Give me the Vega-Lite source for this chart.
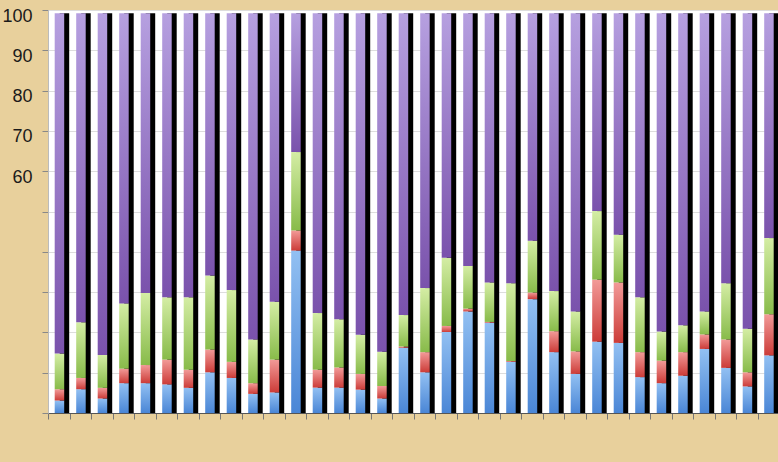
{
  "$schema": "https://vega.github.io/schema/vega-lite/v6.json",
  "width": 731,
  "height": 403,
  "autosize": {"type": "none"},
  "padding": {"left": 48, "top": 10, "right": 0, "bottom": 49},
  "background": "#e8d09c",
  "config": {"view": {"stroke": null, "fill": "white"}, "font": "Liberation Sans"},
  "datasets": {
    "d": [
      {"bar":1,"series":"A","value":3.1},{"bar":1,"series":"B","value":2.8},{"bar":1,"series":"C","value":8.85},{"bar":1,"series":"D","value":84.45},
      {"bar":2,"series":"A","value":5.9},{"bar":2,"series":"B","value":2.8},{"bar":2,"series":"C","value":13.8},{"bar":2,"series":"D","value":76.7},
      {"bar":3,"series":"A","value":3.6},{"bar":3,"series":"B","value":2.65},{"bar":3,"series":"C","value":8.15},{"bar":3,"series":"D","value":84.8},
      {"bar":4,"series":"A","value":7.4},{"bar":4,"series":"B","value":3.6},{"bar":4,"series":"C","value":16.2},{"bar":4,"series":"D","value":72.0},
      {"bar":5,"series":"A","value":7.4},{"bar":5,"series":"B","value":4.5},{"bar":5,"series":"C","value":17.9},{"bar":5,"series":"D","value":69.4},
      {"bar":6,"series":"A","value":7.1},{"bar":6,"series":"B","value":6.15},{"bar":6,"series":"C","value":15.45},{"bar":6,"series":"D","value":70.5},
      {"bar":7,"series":"A","value":6.25},{"bar":7,"series":"B","value":4.5},{"bar":7,"series":"C","value":17.95},{"bar":7,"series":"D","value":70.5},
      {"bar":8,"series":"A","value":10.1},{"bar":8,"series":"B","value":5.65},{"bar":8,"series":"C","value":18.35},{"bar":8,"series":"D","value":65.1},
      {"bar":9,"series":"A","value":8.7},{"bar":9,"series":"B","value":4.0},{"bar":9,"series":"C","value":17.8},{"bar":9,"series":"D","value":68.7},
      {"bar":10,"series":"A","value":4.75},{"bar":10,"series":"B","value":2.65},{"bar":10,"series":"C","value":10.85},{"bar":10,"series":"D","value":80.95},
      {"bar":11,"series":"A","value":5.1},{"bar":11,"series":"B","value":8.15},{"bar":11,"series":"C","value":14.35},{"bar":11,"series":"D","value":71.6},
      {"bar":12,"series":"A","value":40.3},{"bar":12,"series":"B","value":5.0},{"bar":12,"series":"C","value":19.45},{"bar":12,"series":"D","value":34.45},
      {"bar":13,"series":"A","value":6.3},{"bar":13,"series":"B","value":4.45},{"bar":13,"series":"C","value":14.05},{"bar":13,"series":"D","value":74.4},
      {"bar":14,"series":"A","value":6.3},{"bar":14,"series":"B","value":5.0},{"bar":14,"series":"C","value":11.95},{"bar":14,"series":"D","value":75.95},
      {"bar":15,"series":"A","value":5.8},{"bar":15,"series":"B","value":3.9},{"bar":15,"series":"C","value":9.7},{"bar":15,"series":"D","value":79.8},
      {"bar":16,"series":"A","value":3.6},{"bar":16,"series":"B","value":3.1},{"bar":16,"series":"C","value":8.5},{"bar":16,"series":"D","value":84.0},
      {"bar":17,"series":"A","value":16.2},{"bar":17,"series":"B","value":0.3},{"bar":17,"series":"C","value":7.8},{"bar":17,"series":"D","value":74.9},
      {"bar":18,"series":"A","value":10.1},{"bar":18,"series":"B","value":5.0},{"bar":18,"series":"C","value":15.9},{"bar":18,"series":"D","value":68.2},
      {"bar":19,"series":"A","value":20.1},{"bar":19,"series":"B","value":1.5},{"bar":19,"series":"C","value":16.9},{"bar":19,"series":"D","value":60.7},
      {"bar":20,"series":"A","value":25.2},{"bar":20,"series":"B","value":0.7},{"bar":20,"series":"C","value":10.6},{"bar":20,"series":"D","value":62.7},
      {"bar":21,"series":"A","value":22.4},{"bar":21,"series":"B","value":0.2},{"bar":21,"series":"C","value":9.8},{"bar":21,"series":"D","value":66.8},
      {"bar":22,"series":"A","value":12.7},{"bar":22,"series":"B","value":0.2},{"bar":22,"series":"C","value":19.3},{"bar":22,"series":"D","value":67.0},
      {"bar":23,"series":"A","value":28.25},{"bar":23,"series":"B","value":1.65},{"bar":23,"series":"C","value":12.85},{"bar":23,"series":"D","value":56.45},
      {"bar":24,"series":"A","value":15.1},{"bar":24,"series":"B","value":5.2},{"bar":24,"series":"C","value":9.95},{"bar":24,"series":"D","value":68.95},
      {"bar":25,"series":"A","value":9.7},{"bar":25,"series":"B","value":5.6},{"bar":25,"series":"C","value":9.9},{"bar":25,"series":"D","value":74.0},
      {"bar":26,"series":"A","value":17.7},{"bar":26,"series":"B","value":15.4},{"bar":26,"series":"C","value":17.0},{"bar":26,"series":"D","value":49.1},
      {"bar":27,"series":"A","value":17.4},{"bar":27,"series":"B","value":15.0},{"bar":27,"series":"C","value":11.85},{"bar":27,"series":"D","value":54.95},
      {"bar":28,"series":"A","value":8.9},{"bar":28,"series":"B","value":6.2},{"bar":28,"series":"C","value":13.6},{"bar":28,"series":"D","value":70.5},
      {"bar":29,"series":"A","value":7.4},{"bar":29,"series":"B","value":5.6},{"bar":29,"series":"C","value":7.2},{"bar":29,"series":"D","value":79.0},
      {"bar":30,"series":"A","value":9.25},{"bar":30,"series":"B","value":5.85},{"bar":30,"series":"C","value":6.65},{"bar":30,"series":"D","value":77.45},
      {"bar":31,"series":"A","value":15.9},{"bar":31,"series":"B","value":3.6},{"bar":31,"series":"C","value":5.7},{"bar":31,"series":"D","value":74.0},
      {"bar":32,"series":"A","value":11.2},{"bar":32,"series":"B","value":7.05},{"bar":32,"series":"C","value":13.95},{"bar":32,"series":"D","value":67.0},
      {"bar":33,"series":"A","value":6.6},{"bar":33,"series":"B","value":3.5},{"bar":33,"series":"C","value":10.8},{"bar":33,"series":"D","value":78.3},
      {"bar":34,"series":"A","value":14.3},{"bar":34,"series":"B","value":10.2},{"bar":34,"series":"C","value":18.9},{"bar":34,"series":"D","value":55.8}
    ]
  },
  "data": {"name": "d"},
  "transform": [
    {"stack": "value", "groupby": ["bar"], "sort": [{"field": "series", "order": "ascending"}], "as": ["y0", "y1"]}
  ],
  "encoding": {
    "x": {
      "field": "bar", "type": "ordinal",
      "scale": {"paddingInner": 0, "paddingOuter": 0},
      "axis": {"labels": false, "title": null, "tickBand": "extent", "tickSize": 6, "tickColor": "#777777", "domainColor": "#555555", "grid": false}
    }
  },
  "layer": [
    {
      "mark": {"type": "bar", "color": "#000000", "width": 9.5, "xOffset": 5.7},
      "encoding": {
        "y": {
          "aggregate": "sum", "field": "value", "type": "quantitative",
          "scale": {"domain": [0, 100], "nice": false},
          "axis": {
            "title": null, "values": [0,10,20,30,40,50,60,70,80,90,100],
            "labelExpr": "datum.value >= 60 ? datum.label : ''",
            "labelFontSize": 18, "labelColor": "#1a1a1a", "labelFont": "Liberation Sans",
            "labelPadding": 10, "labelOffset": 6, "labelOverlap": false,
            "tickSize": 6, "tickColor": "#888888", "domainColor": "#bbbbbb", "gridColor": "#dddddd"
          }
        }
      }
    },
    {
      "transform": [{"filter": "datum.series == 'A'"}],
      "mark": {"type": "bar", "width": 9.5, "xOffset": 0.7,
        "color": {"gradient": "linear", "x1": 0, "y1": 0, "x2": 0, "y2": 1, "stops": [{"offset": 0, "color": "#92c0f2"}, {"offset": 1, "color": "#4a86d6"}]}},
      "encoding": {
        "y": {"field": "y0", "type": "quantitative"},
        "y2": {"field": "y1"}
      }
    },
    {
      "transform": [{"filter": "datum.series == 'B'"}],
      "mark": {"type": "bar", "width": 9.5, "xOffset": 0.7,
        "color": {"gradient": "linear", "x1": 0, "y1": 0, "x2": 0, "y2": 1, "stops": [{"offset": 0, "color": "#f29a98"}, {"offset": 1, "color": "#cc3c38"}]}},
      "encoding": {
        "y": {"field": "y0", "type": "quantitative"},
        "y2": {"field": "y1"}
      }
    },
    {
      "transform": [{"filter": "datum.series == 'C'"}],
      "mark": {"type": "bar", "width": 9.5, "xOffset": 0.7,
        "color": {"gradient": "linear", "x1": 0, "y1": 0, "x2": 0, "y2": 1, "stops": [{"offset": 0, "color": "#d4eda4"}, {"offset": 1, "color": "#88bb4a"}]}},
      "encoding": {
        "y": {"field": "y0", "type": "quantitative"},
        "y2": {"field": "y1"}
      }
    },
    {
      "transform": [{"filter": "datum.series == 'D'"}],
      "mark": {"type": "bar", "width": 9.5, "xOffset": 0.7,
        "color": {"gradient": "linear", "x1": 0, "y1": 0, "x2": 0, "y2": 1, "stops": [{"offset": 0, "color": "#b6a0e0"}, {"offset": 1, "color": "#7a52ac"}]}},
      "encoding": {
        "y": {"field": "y0", "type": "quantitative"},
        "y2": {"field": "y1"}
      }
    }
  ]
}
